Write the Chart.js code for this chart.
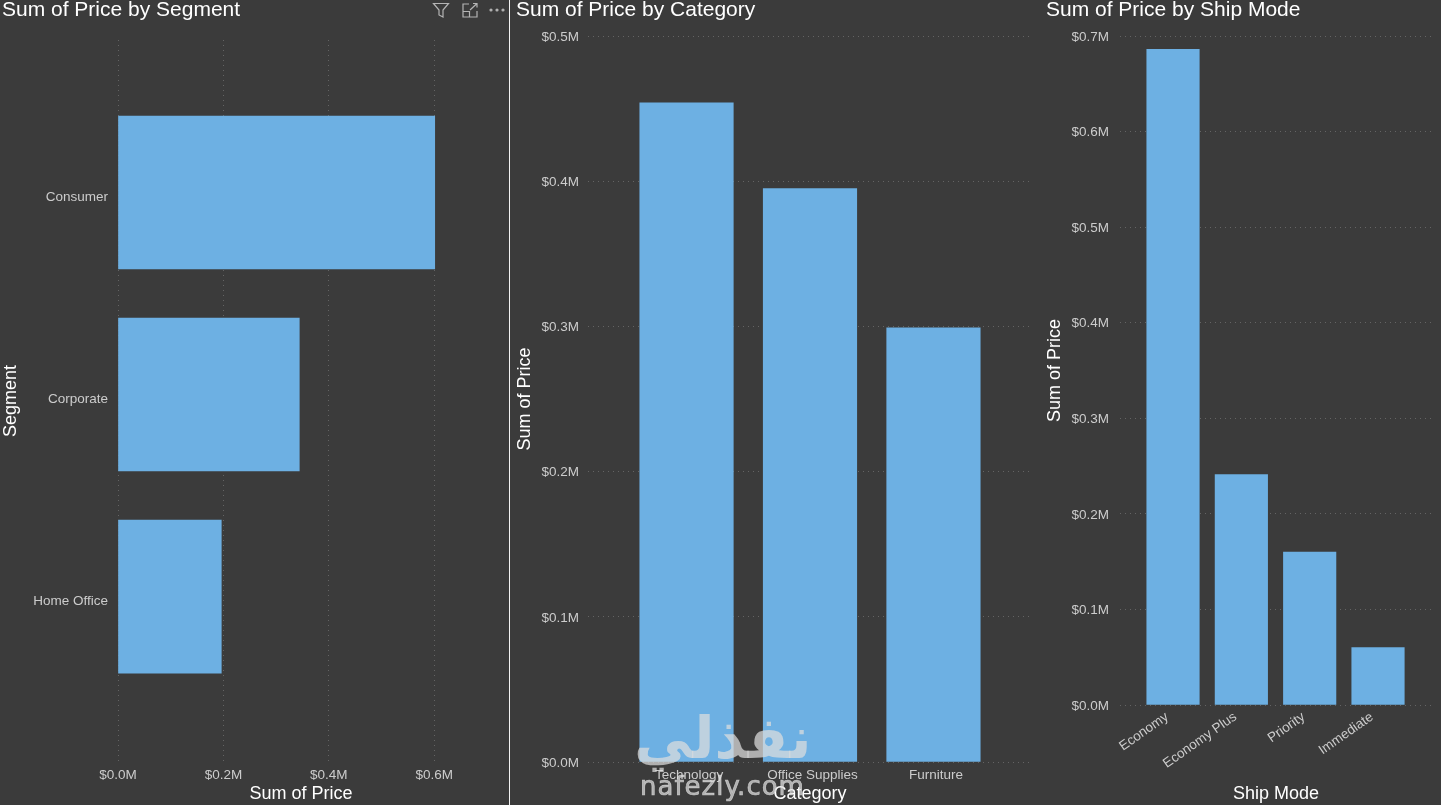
<!DOCTYPE html>
<html>
<head>
<meta charset="utf-8">
<script src="https://cdn.jsdelivr.net/npm/chart.js@4/dist/chart.umd.min.js"></script>
<style>
  html, body { margin: 0; padding: 0; background: #3b3b3b; }
  body { position: relative; width: 1441px; height: 805px; overflow: hidden; font-family: "Liberation Sans", Arial, sans-serif; }
  canvas { position: absolute; top: 0; }
  #separator { position: absolute; left: 509px; top: 0; width: 1px; height: 805px; background: #f2f2f2; }
  #icons { position: absolute; left: 430px; top: 0; }
  .mark { position: absolute; color: rgba(222, 222, 222, 0.72); white-space: nowrap; }
  #markArabic { left: 634px; top: 704px; font: bold 58px "DejaVu Sans", sans-serif; direction: rtl; }
  #markLatin { left: 640px; top: 771px; font: 26px "DejaVu Sans", sans-serif; letter-spacing: 1px; -webkit-text-stroke: 0.7px rgba(222, 222, 222, 0.72); }
</style>
</head>
<body>
<canvas id="segmentChart"></canvas>
<canvas id="categoryChart"></canvas>
<canvas id="shipChart"></canvas>
<div id="separator"></div>
<svg id="icons" width="80" height="20" fill="none" stroke="#b4b4b4" stroke-width="1.2">
  <path d="M3.5 3.5 H18.5 L13 10 V17 L9 15 V10 Z"/>
  <path d="M39 4 H33 V17 H47 V11 M33 11.5 H39.5 V17 M40 10 L47 3.5 M43 3.5 H47 V7.5"/>
  <circle cx="61" cy="10" r="1" fill="#b4b4b4"/><circle cx="67" cy="10" r="1" fill="#b4b4b4"/><circle cx="73" cy="10" r="1" fill="#b4b4b4"/>
</svg>
<div class="mark" id="markArabic">نفذلي</div>
<div class="mark" id="markLatin">nafezly.com</div>

<script>
// values in $M
const segments = ["Consumer", "Corporate", "Home Office"];
const segmentPrices = [0.601, 0.344, 0.196];
const segmentTicks = [0, 0.2, 0.4, 0.6];

const categories = ["Technology", "Office Supplies", "Furniture"];
const categoryPrices = [0.454, 0.395, 0.299];
const categoryTicks = [0, 0.1, 0.2, 0.3, 0.4, 0.5];

const shipModes = ["Economy", "Economy Plus", "Priority", "Immediate"];
const shipPrices = [0.686, 0.241, 0.160, 0.060];
const shipTicks = [0, 0.1, 0.2, 0.3, 0.4, 0.5, 0.6, 0.7];

const BAR = "#6db0e3";
const GRID = "#646464";
const TICK = "#cccccc";
const WHITE = "#ffffff";
const PAGE_H = 805;

function money(v) {
  return "$" + v.toFixed(1) + "M";
}

function drawChart(id, c) {
  const canvas = document.getElementById(id);
  canvas.style.left = c.left + "px";
  canvas.style.width = c.width + "px";
  canvas.style.height = PAGE_H + "px";
  canvas.width = c.width;
  canvas.height = PAGE_H;

  const horizontal = c.horizontal === true;
  const points = c.values.map((v, i) => horizontal ? { x: v, y: i } : { x: i, y: v });

  const valueScale = {
    type: "linear",
    min: c.valueMin,
    max: c.valueMax,
    afterBuildTicks: s => { s.ticks = c.ticks.map(v => ({ value: v })); },
    grid: { display: true, color: GRID, lineWidth: 1, drawTicks: false },
    border: { display: false, dash: [1, 4] },
    ticks: {
      autoSkip: false,
      color: TICK,
      padding: c.valuePadding,
      labelOffset: horizontal ? 0 : 1,
      font: { family: "Liberation Sans", size: 13.5 },
      callback: v => money(v)
    },
    title: {
      display: true,
      text: "Sum of Price",
      color: WHITE,
      padding: horizontal ? 0 : -2,
      font: { family: "Liberation Sans", size: 18 }
    }
  };

  // linear index axis: the bands do not fill the plot in the report
  const indexScale = {
    type: "linear",
    offset: false,
    min: c.indexMin,
    max: c.indexMax,
    reverse: horizontal,
    afterBuildTicks: s => { s.ticks = c.labels.map((l, i) => ({ value: i })); },
    grid: { display: false, drawTicks: false, offset: false },
    border: { display: false },
    ticks: {
      autoSkip: false,
      color: TICK,
      padding: c.indexPadding,
      labelOffset: c.labelOffset || 0,
      minRotation: c.rotation || 0,
      maxRotation: c.rotation || 0,
      font: { family: "Liberation Sans", size: 13.5 },
      callback: v => c.labels[v]
    },
    title: {
      display: true,
      text: c.axisTitle,
      color: WHITE,
      padding: horizontal ? -2 : 0,
      font: { family: "Liberation Sans", size: 18 }
    }
  };

  const xScale = horizontal ? valueScale : indexScale;
  const yScale = horizontal ? indexScale : valueScale;
  // fixed plot rectangle, the panels have to line up with the report
  xScale.afterFit = s => { s.height = PAGE_H - c.plotBottom; };
  yScale.afterFit = s => { s.width = c.plotLeft - c.left - 2; };

  return new Chart(canvas.getContext("2d"), {
    type: "bar",
    data: {
      datasets: [{
        data: points,
        backgroundColor: BAR,
        barThickness: c.barSize
      }]
    },
    options: {
      indexAxis: horizontal ? "y" : "x",
      responsive: false,
      animation: false,
      devicePixelRatio: 1,
      layout: { padding: { left: 2, top: 0, bottom: 0, right: c.left + c.width - c.plotRight } },
      plugins: {
        legend: { display: false },
        tooltip: { enabled: false },
        title: {
          display: true,
          text: c.title,
          align: "start",
          color: WHITE,
          font: { family: "Liberation Sans", size: 21, weight: "normal" },
          padding: { top: -2, bottom: c.plotTop - 23.2 }
        }
      },
      scales: { x: xScale, y: yScale }
    }
  });
}

drawChart("segmentChart", {
  title: "Sum of Price by Segment", axisTitle: "Segment",
  horizontal: true, labels: segments, values: segmentPrices, ticks: segmentTicks,
  left: 0, width: 509, plotLeft: 118, plotRight: 484, plotTop: 40, plotBottom: 762,
  valueMin: 0, valueMax: 0.6945, indexMin: -0.755, indexMax: 2.819,
  barSize: 153, valuePadding: 5, indexPadding: 10, labelOffset: 5
});

drawChart("categoryChart", {
  title: "Sum of Price by Category", axisTitle: "Category",
  labels: categories, values: categoryPrices, ticks: categoryTicks,
  left: 514, width: 526, plotLeft: 588, plotRight: 1032, plotTop: 36, plotBottom: 762,
  valueMin: 0, valueMax: 0.5, indexMin: -0.798, indexMax: 2.798,
  barSize: 93.5, valuePadding: 9, indexPadding: 5, labelOffset: 2.5
});

drawChart("shipChart", {
  title: "Sum of Price by Ship Mode", axisTitle: "Ship Mode",
  labels: shipModes, values: shipPrices, ticks: shipTicks,
  left: 1044, width: 397, plotLeft: 1120, plotRight: 1432, plotTop: 36, plotBottom: 705,
  valueMin: 0, valueMax: 0.7, indexMin: -0.776, indexMax: 3.79,
  barSize: 52.5, valuePadding: 11, indexPadding: 4, labelOffset: -6, rotation: 35
});
</script>
</body>
</html>
